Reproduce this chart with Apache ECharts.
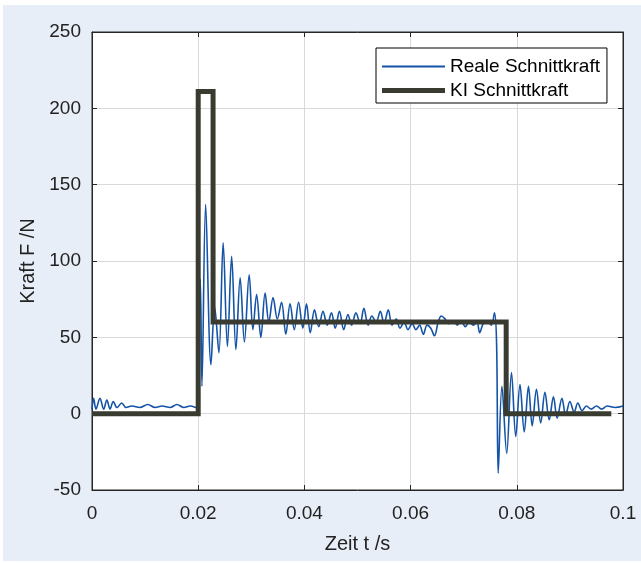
<!DOCTYPE html>
<html>
<head>
<meta charset="utf-8">
<script src="https://cdn.jsdelivr.net/npm/echarts@6/dist/echarts.min.js"></script>
<style>
html,body{margin:0;padding:0;background:#ffffff;}
#bg{position:absolute;left:3px;top:5px;right:0;bottom:2px;background:#e8eef7;}
#chart{position:absolute;left:0;top:0;width:641px;height:563px;}
</style>
</head>
<body>
<div id="bg"></div>
<div id="chart"></div>
<script>
// Reale Schnittkraft: time (s) and force (N)
const realTime = [
  0, 0.0003, 0.00075, 0.0015, 0.0022, 0.0028, 0.0034, 0.004, 0.0047, 0.0056, 0.0064, 0.0075,
  0.009, 0.0105, 0.0119, 0.0132, 0.0147, 0.016, 0.0173, 0.0185, 0.0196,
  0.0199, 0.0204, 0.0207, 0.0214, 0.0224, 0.0231, 0.0239, 0.0247, 0.0255, 0.0263, 0.0271,
  0.0279, 0.0287, 0.0296, 0.0303, 0.0310, 0.0318, 0.0326, 0.0333, 0.0341, 0.0349, 0.0357,
  0.0365, 0.0373, 0.0381, 0.0389, 0.0397, 0.0404, 0.0411, 0.0419, 0.0427, 0.0435, 0.0443,
  0.0451, 0.0458, 0.0466, 0.0474, 0.0482, 0.0489, 0.0497, 0.0505, 0.0512, 0.0520, 0.0527,
  0.0535, 0.0543, 0.0550, 0.0558, 0.0565, 0.0573, 0.0580, 0.0588, 0.0595, 0.0603, 0.0610,
  0.0617, 0.0624, 0.0631, 0.0638, 0.0645, 0.0652, 0.0658, 0.0665, 0.0672, 0.0680, 0.0688,
  0.0695, 0.0703, 0.0710, 0.0718, 0.0725, 0.0730, 0.0737, 0.0745, 0.0752, 0.0758, 0.0762,
  0.0765, 0.0772, 0.0781, 0.0790, 0.0798, 0.0806, 0.0814, 0.0822, 0.0829, 0.0837, 0.0845,
  0.0853, 0.0861, 0.0869, 0.0876, 0.0885, 0.0892, 0.0900, 0.0908, 0.0915, 0.0923, 0.0931,
  0.0940, 0.0950, 0.0960, 0.0970, 0.0985, 0.1000
];
const realForce = [
  3, 10, 3, 10, 3, 9, 3, 8, 4, 7, 4, 5,
  4, 6, 4, 5, 4, 6, 4, 5, 4,
  20, 88, 18, 137, 32, 70, 40, 112, 44, 103, 42,
  89, 47, 91, 55, 78, 50, 79, 60, 76, 62, 73,
  52, 72, 55, 73, 56, 72, 53, 68, 57, 67, 58,
  66, 56, 67, 55, 65, 58, 66, 59, 69, 58, 64,
  60, 67, 59, 68, 58, 62, 56, 60, 55, 59, 55,
  58, 52, 58, 56, 51, 60, 64, 62, 59, 61, 58,
  61, 57, 60, 58, 60, 53, 59, 60, 58, 66, 45,
  -39, 18, -26, 27, -15, 19, -12, 18, -8, 16, -6,
  14, -4, 11, -3, 10, -1, 8, 1, 7, 2, 5,
  3, 5, 3, 5, 4, 5
];
// KI Schnittkraft: step profile
const kiTime = [0, 0.0200, 0.0200, 0.0228, 0.0228, 0.0780, 0.0780, 0.0978];
const kiForce = [0, 0, 211, 211, 60, 60, 0, 0];
// Axis settings
const xTicks = [0, 0.02, 0.04, 0.06, 0.08, 0.1];
const yTicks = [-50, 0, 50, 100, 150, 200, 250];
const seriesNames = ['Reale Schnittkraft', 'KI Schnittkraft'];
const xName = 'Zeit t /s';
const yName = 'Kraft F /N';

const realData = realTime.map((t, i) => [t, realForce[i]]);
const kiData = kiTime.map((t, i) => [t, kiForce[i]]);

const font = 'Liberation Sans, Arial, sans-serif';
const blue = '#1553a6';
const dark = '#393b30';
const chart = echarts.init(document.getElementById('chart'), null, {renderer: 'canvas'});
const xStep = xTicks[1] - xTicks[0];
const yStep = yTicks[1] - yTicks[0];
const baseX = {
  type: 'value', min: xTicks[0], max: xTicks[xTicks.length - 1], interval: xStep,
  axisLine: {show: true, onZero: false, lineStyle: {color: '#262626', width: 1}},
  axisTick: {show: true, inside: true, length: 5, lineStyle: {color: '#262626'}},
  splitLine: {show: false}
};
const baseY = {
  type: 'value', min: yTicks[0], max: yTicks[yTicks.length - 1], interval: yStep,
  axisLine: {show: true, onZero: false, lineStyle: {color: '#262626', width: 1}},
  axisTick: {show: true, inside: true, length: 5, lineStyle: {color: '#262626'}},
  splitLine: {show: false}
};
const legendText = {fontSize: 19, color: '#000000', fontFamily: font};
chart.setOption({
  backgroundColor: 'transparent',
  animation: false,
  textStyle: {fontFamily: font},
  grid: {left: 92, right: 18, top: 32, bottom: 73, show: true, backgroundColor: '#ffffff', borderColor: '#262626', borderWidth: 1},
  legend: [
    {
      orient: 'vertical', left: 376, top: 48, z: 4,
      padding: [9, 7, 27, 6], itemWidth: 63, itemHeight: 2, itemGap: 5,
      icon: 'rect', selectedMode: false,
      backgroundColor: '#ffffff', borderColor: '#000000', borderWidth: 1, borderRadius: 0,
      textStyle: legendText,
      data: [{name: seriesNames[0], itemStyle: {color: blue}}]
    },
    {
      orient: 'vertical', left: 376, top: 81, z: 5,
      padding: [0, 7, 0, 6], itemWidth: 63, itemHeight: 5, itemGap: 5,
      icon: 'rect', selectedMode: false,
      textStyle: legendText,
      data: [{name: seriesNames[1], itemStyle: {color: dark}}]
    }
  ],
  xAxis: [
    Object.assign({}, baseX, {
      position: 'bottom',
      name: xName, nameLocation: 'middle', nameGap: 44,
      nameTextStyle: {fontSize: 20, color: '#222222', fontFamily: font},
      axisLabel: {fontSize: 19, color: '#222222', margin: 14, fontFamily: font,
        formatter: v => String(+v.toFixed(2))},
      splitLine: {show: true, lineStyle: {color: '#d9d9d9', width: 1}}
    }),
    Object.assign({}, baseX, {position: 'top', axisLabel: {show: false}})
  ],
  yAxis: [
    Object.assign({}, baseY, {
      position: 'left',
      name: yName, nameLocation: 'middle', nameGap: 54,
      nameTextStyle: {fontSize: 20, color: '#222222', fontFamily: font},
      axisLabel: {fontSize: 19, color: '#222222', margin: 11, fontFamily: font},
      splitLine: {show: true, lineStyle: {color: '#d9d9d9', width: 1}}
    }),
    Object.assign({}, baseY, {position: 'right', axisLabel: {show: false}})
  ],
  series: [
    {
      name: seriesNames[0], type: 'line', data: realData, xAxisIndex: 0, yAxisIndex: 0,
      symbol: 'none', smooth: 0.35, z: 2,
      lineStyle: {color: blue, width: 1.6},
      itemStyle: {color: blue}
    },
    {
      name: seriesNames[1], type: 'line', data: kiData, xAxisIndex: 0, yAxisIndex: 0,
      symbol: 'none', z: 3,
      lineStyle: {color: dark, width: 5, cap: 'butt', join: 'miter'},
      itemStyle: {color: dark}
    }
  ]
});
</script>
</body>
</html>
